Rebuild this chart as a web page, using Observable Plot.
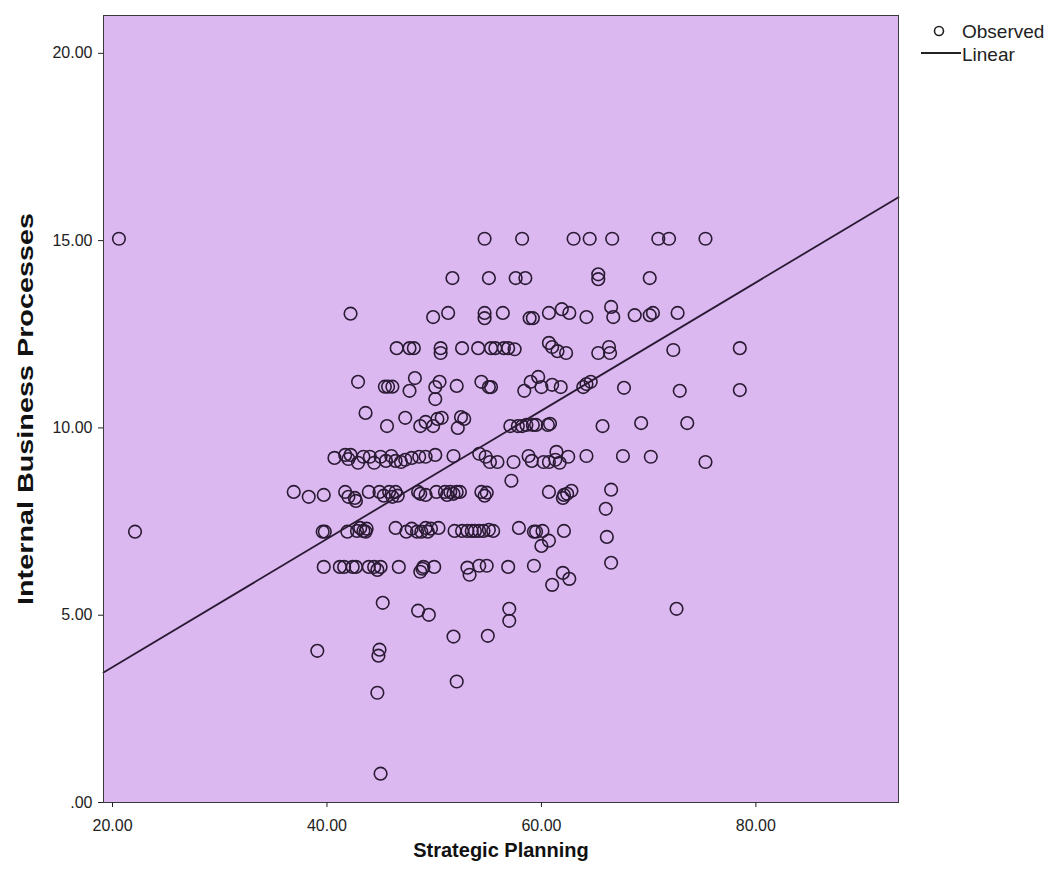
<!DOCTYPE html>
<html>
<head>
<meta charset="utf-8">
<script src="https://cdn.jsdelivr.net/npm/d3@7"></script>
<script src="https://cdn.jsdelivr.net/npm/@observablehq/plot@0.6"></script>
<style>
  body { margin: 0; background: #fff; font-family: "Liberation Sans", Arial, sans-serif; }
  #wrap { position: relative; width: 1058px; height: 888px; }
  #legend { position: absolute; left: 900px; top: 0px; }
</style>
</head>
<body>
<div id="wrap">
  <div id="chart"></div>
  <svg id="legend" width="158" height="70" font-family="'Liberation Sans', Arial, sans-serif" font-size="19" fill="#222">
    <circle cx="39" cy="31" r="4.5" fill="none" stroke="#222" stroke-width="1.6"/>
    <text x="62" y="38">Observed</text>
    <line x1="21" y1="53" x2="61" y2="53" stroke="#222" stroke-width="1.8"/>
    <text x="62" y="61">Linear</text>
  </svg>
</div>
<script>
// Strategic Planning (x) values, read row by row
const spX = [
  20.6, 54.7, 58.2, 63.0, 64.5, 66.6, 70.9, 71.9, 75.3,
  51.7, 55.1, 57.6, 58.5, 65.3, 65.3, 70.1,
  42.2, 49.9, 51.3, 54.7, 54.7, 56.4, 58.9, 59.2, 60.7, 61.9, 62.6, 64.2, 66.5, 66.7, 68.7, 70.1, 70.4, 72.7,
  46.5, 47.7, 48.1, 50.6, 50.6, 52.6, 54.1, 55.3, 55.7, 56.5, 56.9, 57.5, 60.7, 61.0, 61.5, 62.3, 65.3, 66.3, 66.4, 72.3, 78.5,
  42.9, 45.4, 45.7, 46.1, 47.7, 48.2, 50.1, 50.5, 52.1, 54.4, 55.1, 55.3, 58.4, 59.0, 59.7, 60.0, 61.0, 61.8, 63.9, 64.2, 64.6, 67.7, 72.9, 78.5, 50.1,
  43.6, 45.6, 47.3, 48.7, 49.2, 49.9, 50.3, 50.7, 52.2, 52.5, 52.8, 57.1, 57.8, 58.2, 58.6, 59.2, 59.5, 60.6, 60.8, 65.7, 69.3, 73.6,
  40.7, 41.7, 42.0, 42.2, 42.9, 43.4, 44.0, 44.4, 45.0, 45.5, 46.0, 46.4, 46.9, 47.3, 47.9, 48.6, 49.2, 50.1, 51.8, 54.2, 54.8, 55.2, 55.9, 57.4, 58.8, 59.1, 60.2, 60.7, 61.3, 61.4, 61.7, 62.5, 64.2, 67.6, 70.2, 75.3,
  36.9, 38.3, 39.7, 41.7, 42.0, 42.6, 42.7, 43.9, 44.9, 45.3, 45.8, 46.1, 46.4, 46.6, 48.5, 48.7, 49.2, 50.2, 51.0, 51.2, 51.5, 51.8, 52.1, 52.4, 54.4, 54.7, 54.9, 57.2, 60.7, 62.0, 62.1, 62.4, 62.8, 66.0, 66.5,
  22.1, 39.6, 39.8, 41.9, 42.8, 43.1, 43.4, 43.6, 43.7, 46.4, 47.4, 47.9, 48.4, 48.8, 49.2, 49.4, 49.7, 50.4, 51.9, 52.6, 53.1, 53.5, 53.8, 54.2, 54.6, 55.1, 55.5, 57.9, 59.3, 59.5, 60.1, 60.7, 62.1, 66.1, 60.0,
  39.7, 41.2, 41.6, 42.4, 42.7, 43.9, 44.4, 44.7, 45.0, 46.7, 48.7, 48.9, 49.0, 50.0, 53.1, 53.3, 54.2, 54.9, 56.9, 59.3, 61.0, 62.0, 62.6, 66.5,
  45.2, 48.5, 49.5, 57.0, 57.0, 72.6, 51.8, 55.0, 39.1, 44.9, 44.8, 44.7, 52.1, 45.0
];
// Internal Business Processes (y) values, same order
const ibpY = [
  15.05, 15.05, 15.05, 15.05, 15.05, 15.05, 15.05, 15.05, 15.05,
  14.0, 14.0, 14.0, 14.0, 14.1, 13.97, 14.0,
  13.05, 12.96, 13.07, 13.07, 12.93, 13.07, 12.93, 12.93, 13.07, 13.17, 13.07, 12.96, 13.23, 12.96, 13.01, 13.01, 13.07, 13.07,
  12.13, 12.13, 12.13, 12.13, 12.0, 12.13, 12.13, 12.13, 12.13, 12.13, 12.13, 12.1, 12.27, 12.16, 12.05, 12.0, 12.0, 12.16, 12.0, 12.08, 12.13,
  11.23, 11.1, 11.1, 11.1, 10.99, 11.33, 11.09, 11.23, 11.12, 11.23, 11.09, 11.09, 10.99, 11.23, 11.36, 11.09, 11.15, 11.09, 11.09, 11.17, 11.23, 11.07, 10.99, 11.01, 10.77,
  10.4, 10.05, 10.27, 10.05, 10.16, 10.05, 10.24, 10.27, 10.0, 10.29, 10.24, 10.05, 10.05, 10.05, 10.08, 10.08, 10.08, 10.08, 10.11, 10.05, 10.13, 10.13,
  9.2, 9.28, 9.17, 9.28, 9.07, 9.23, 9.23, 9.07, 9.23, 9.12, 9.25, 9.12, 9.09, 9.15, 9.2, 9.23, 9.23, 9.28, 9.25, 9.31, 9.23, 9.09, 9.09, 9.09, 9.25, 9.12, 9.09, 9.09, 9.15, 9.36, 9.07, 9.23, 9.25, 9.25, 9.23, 9.09,
  8.29, 8.16, 8.21, 8.29, 8.16, 8.13, 8.05, 8.29, 8.29, 8.19, 8.29, 8.16, 8.29, 8.19, 8.29, 8.24, 8.21, 8.29, 8.29, 8.21, 8.29, 8.24, 8.29, 8.29, 8.29, 8.19, 8.27, 8.59, 8.29, 8.13, 8.21, 8.24, 8.32, 7.84, 8.35,
  7.23, 7.23, 7.23, 7.23, 7.25, 7.33, 7.25, 7.23, 7.31, 7.33, 7.23, 7.31, 7.23, 7.23, 7.33, 7.23, 7.31, 7.33, 7.25, 7.25, 7.25, 7.25, 7.25, 7.25, 7.25, 7.28, 7.25, 7.33, 7.23, 7.23, 7.25, 6.99, 7.25, 7.09, 6.85,
  6.29, 6.29, 6.29, 6.29, 6.29, 6.29, 6.29, 6.21, 6.29, 6.29, 6.16, 6.24, 6.29, 6.29, 6.27, 6.08, 6.32, 6.32, 6.29, 6.32, 5.81, 6.13, 5.97, 6.4,
  5.33, 5.12, 5.01, 5.17, 4.85, 5.17, 4.43, 4.45, 4.05, 4.08, 3.92, 2.93, 3.23, 0.77
];
// Fitted linear line endpoints
const fitX = [19.16, 93.3];
const fitY = [3.47, 16.16];

const xTicks = [20, 40, 60, 80];
const yTicks = [0, 5, 10, 15, 20];
const fmt = d => d === 0 ? ".00" : d.toFixed(2);

const points = spX.map((x, i) => ({x, y: ibpY[i]}));
const fit = fitX.map((x, i) => ({x, y: fitY[i]}));

const chart = Plot.plot({
  width: 1058,
  height: 888,
  marginLeft: 103,
  marginRight: 160,
  marginTop: 15,
  marginBottom: 86,
  style: { fontFamily: "'Liberation Sans', Arial, sans-serif", background: "#fff" },
  x: { domain: [19.16, 93.3], ticks: xTicks, tickFormat: fmt },
  y: { domain: [0, 21.01], ticks: yTicks, tickFormat: fmt },
  marks: [
    Plot.frame({ fill: "#dcb8f1" }),
    Plot.dot(points, { x: "x", y: "y", r: 6.3, stroke: "#2a1a33", strokeWidth: 1.6, fill: "none" }),
    Plot.line(fit, { x: "x", y: "y", stroke: "#2a1a33", strokeWidth: 1.8 }),
    Plot.frame({ stroke: "#3a3a3a", strokeWidth: 1 }),
    Plot.axisX({ ticks: xTicks, tickFormat: fmt, tickSize: 5, tickPadding: 12, fontSize: 16, color: "#222",
      label: "Strategic Planning", labelAnchor: "center", labelArrow: "none", labelOffset: 54 }),
    Plot.axisY({ ticks: yTicks, tickFormat: fmt, tickSize: 5, tickPadding: 6, fontSize: 16, color: "#222",
      label: "Internal Business Processes", labelAnchor: "center", labelArrow: "none", labelOffset: 86 })
  ]
});
// style axis labels bold & larger
chart.querySelectorAll("g[aria-label='x-axis label'] text").forEach(t => {
  t.setAttribute("font-size", "20");
  t.setAttribute("font-weight", "bold");
  t.setAttribute("fill", "#111");
});
chart.querySelectorAll("g[aria-label='y-axis label'] text").forEach(t => {
  t.setAttribute("font-size", "22");
  t.setAttribute("font-weight", "bold");
  t.setAttribute("fill", "#111");
  t.setAttribute("textLength", "392");
  t.setAttribute("lengthAdjust", "spacingAndGlyphs");
});
document.getElementById("chart").appendChild(chart);
</script>
</body>
</html>
